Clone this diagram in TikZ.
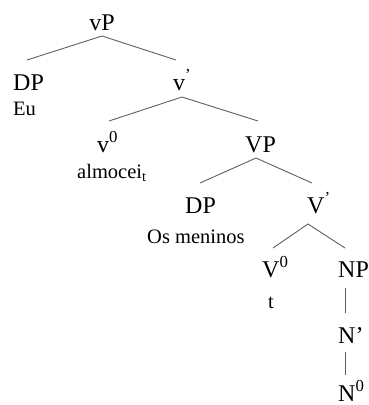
\documentclass[tikz,border=0pt]{standalone}
\usepackage{fontspec}
\setmainfont{Liberation Serif}
\begin{document}
\begin{tikzpicture}[x=1pt,y=-1pt,
  lab/.style={inner sep=0pt,anchor=base west,font=\fontsize{24}{28}\selectfont},
  word/.style={inner sep=0pt,anchor=base west,font=\fontsize{20.5}{24}\selectfont},
  br/.style={draw={rgb,255:red,95;green,95;blue,100},line width=0.9pt}]
\useasboundingbox (0,0) rectangle (369,405);
% labels
\node[lab,anchor=base] (vP) at (102,30) {vP};
\node[lab] (DP1) at (13,90) {DP};
\node[word] (Eu) at (13,115) {Eu};
\node[lab] (v1) at (173,90) {v\textsuperscript{’}};
\node[lab] (v0) at (97,152) {v\textsuperscript{0}};
\node[word] (alm) at (77,178) {almocei\textsubscript{t}};
\node[lab] (VP) at (245,152) {VP};
\node[lab] (DP2) at (185,213) {DP};
\node[word] (os) at (147,243) {Os meninos};
\node[lab] (V1) at (307,213) {V\textsuperscript{’}};
\node[lab] (V0) at (262,277) {V\textsuperscript{0}};
\node[word] (t) at (268,308) {t};
\node[lab] (NP) at (338,277) {NP};
\node[lab] (N1) at (338,343) {N’};
\node[lab] (N0) at (338,401) {N\textsuperscript{0}};
% branch end points
\coordinate (vP-b) at (102,36);
\coordinate (DP1-t) at (27,60);
\coordinate (v1-t) at (176,60);
\coordinate (v1-b) at (182,97);
\coordinate (v0-t) at (109,121);
\coordinate (VP-t) at (258,121);
\coordinate (VP-b) at (256,158);
\coordinate (DP2-t) at (200,183);
\coordinate (V1-t) at (312,183);
\coordinate (V1-b) at (308,224);
\coordinate (V0-t) at (273,248);
\coordinate (NP-t) at (345,248);
\coordinate (NP-b) at (345,288);
\coordinate (N1-t) at (345,313);
\coordinate (N1-b) at (345,352);
\coordinate (N0-t) at (345,375);
% branches
\draw[br] (DP1-t) -- (vP-b) -- (v1-t);
\draw[br] (v0-t) -- (v1-b) -- (VP-t);
\draw[br] (DP2-t) -- (VP-b) -- (V1-t);
\draw[br] (V0-t) -- (V1-b) -- (NP-t);
\draw[br] (NP-b) -- (N1-t);
\draw[br] (N1-b) -- (N0-t);
\end{tikzpicture}
\end{document}
